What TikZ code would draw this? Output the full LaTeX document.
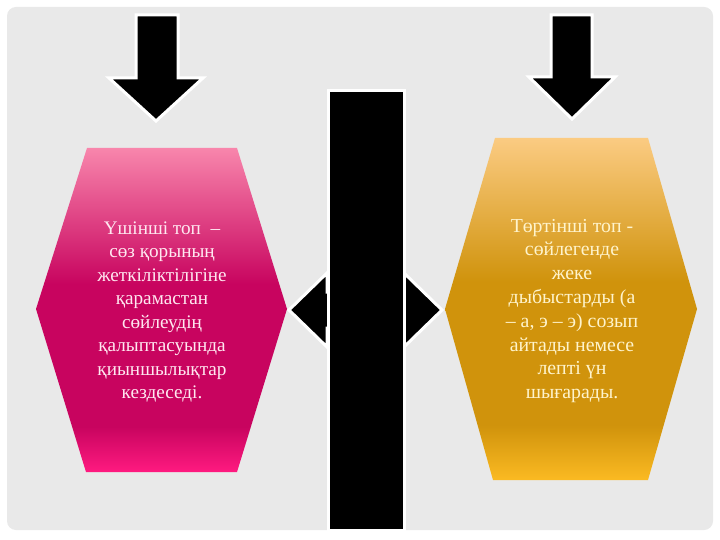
\documentclass[tikz,border=0pt]{standalone}
\usepackage{fontspec}
\setmainfont{Liberation Serif}
\definecolor{bgpanel}{HTML}{E9E9E9}
\definecolor{pinktop}{HTML}{F886AC}
\definecolor{pinkdeep}{HTML}{C8045F}
\definecolor{pinkbot}{HTML}{FF1A80}
\definecolor{goldtop}{HTML}{FBCB82}
\definecolor{golddeep}{HTML}{D0930C}
\definecolor{goldbot}{HTML}{FBBA22}
\definecolor{pinktext}{HTML}{FFE8F0}
\definecolor{goldtext}{HTML}{FFF4CC}
\pgfdeclareverticalshading{pinkgrad}{100bp}{color(0bp)=(pinkbot); color(25bp)=(pinkbot); color(32bp)=(pinkdeep); color(54bp)=(pinkdeep); color(75bp)=(pinktop); color(100bp)=(pinktop)}
\pgfdeclareverticalshading{goldgrad}{100bp}{color(0bp)=(goldbot); color(25bp)=(goldbot); color(33bp)=(golddeep); color(54bp)=(golddeep); color(75bp)=(goldtop); color(100bp)=(goldtop)}
\begin{document}
\begin{tikzpicture}[x=1bp,y=-1bp,
  blackshape/.style={fill=black,draw=white,line width=3bp,line join=miter},
  hextext/.style={align=center,inner sep=0pt}]
\useasboundingbox (0,0) rectangle (720,540);
\fill[white] (0,0) rectangle (720,540);
\fill[bgpanel,rounded corners=9bp] (7,7) rectangle (713,530);
% hexagons
\shade[shading=pinkgrad] (87,148) -- (237,148) -- (287,309) -- (237,472) -- (86,472) -- (36,309) -- cycle;
\shade[shading=goldgrad] (495,138) -- (648,138) -- (697,309) -- (648,480) -- (493,480) -- (445,309) -- cycle;
% down arrows
\draw[blackshape] (136,15) -- (178,15) -- (178,78) -- (203,78) -- (156,121) -- (109,78) -- (136,78) -- cycle;
\draw[blackshape] (551,15) -- (592,15) -- (592,77) -- (615,77) -- (572,119) -- (529,77) -- (551,77) -- cycle;
% double arrow
\draw[blackshape] (289,310) -- (327,273) -- (327,292) -- (404,292) -- (404,273) -- (442,310) -- (404,347) -- (404,328) -- (327,328) -- (327,347) -- cycle;
% vertical bar
\node[blackshape,draw,inner sep=0pt,minimum width=76bp,minimum height=440bp,anchor=north west] (bar) at (327,89) {};
% texts
\node[hextext,text=pinktext,font=\fontsize{19.2bp}{23.5bp}\selectfont] (left) at (162,312) {Үшінші топ \ –\\сөз қорының\\жеткіліктілігіне\\қарамастан\\сөйлеудің\\қалыптасуында\\қиыншылықтар\\кездеседі.};
\node[hextext,text=goldtext,font=\fontsize{19.8bp}{23.8bp}\selectfont] (right) at (572,311) {Төртінші топ -\\сөйлегенде\\жеке\\дыбыстарды (а\\– а, э – э) созып\\айтады немесе\\лепті үн\\шығарады.};
\end{tikzpicture}
\end{document}
